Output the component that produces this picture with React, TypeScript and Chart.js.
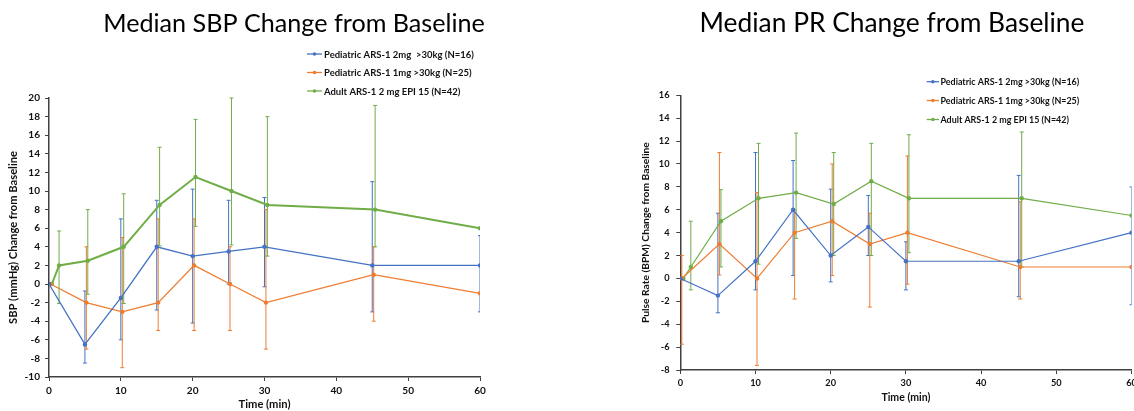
import React, { useEffect, useRef } from "react";
import { Chart, registerables } from "chart.js";

Chart.register(...registerables);

// ---------- data ----------
const pedTimes = [0, 5, 10, 15, 20, 25, 30, 45, 60];
const adultTimes = [0, 1, 5, 10, 15, 20, 25, 30, 45, 60];

const sbpLabels = [
  "Pediatric ARS-1 2mg  >30kg (N=16)",
  "Pediatric ARS-1 1mg >30kg (N=25)",
  "Adult ARS-1 2 mg EPI 15 (N=42)",
];
const prLabels = [
  "Pediatric ARS-1 2mg >30kg (N=16)",
  "Pediatric ARS-1 1mg >30kg (N=25)",
  "Adult ARS-1 2 mg EPI 15 (N=42)",
];

const sbpPed2mg = [0, -6.5, -1.5, 4, 3, 3.5, 4, 2, 2];
const sbpPed2mgLow = [null, -8.5, -6, -2.8, -4.2, 0, -0.3, -3, -3];
const sbpPed2mgHigh = [null, -0.75, 7, 9, 10.2, 9, 9.3, 11, 5.2];
const sbpPed1mg = [0, -2, -3, -2, 2, 0, -2, 1, -1];
const sbpPed1mgLow = [null, -7, -9, -5, -5, -5, -7, -4, null];
const sbpPed1mgHigh = [null, 4, 5, 7, 7, 4, 8, 4, null];
const sbpAdult = [0, 2, 2.5, 4, 8.5, 11.5, 10, 8.5, 8, 6];
const sbpAdultLow = [null, -2.1, -1.1, -2.1, 4.1, 6.2, 4.2, 3, 4, null];
const sbpAdultHigh = [null, 5.7, 8, 9.7, 14.7, 17.7, 20, 18, 19.2, null];

const prPed2mg = [0, -1.5, 1.5, 6, 2, 4.5, 1.5, 1.5, 4];
const prPed2mgLow = [null, -3, -1, 0.25, -0.3, 2, -1, -1.6, -2.3];
const prPed2mgHigh = [null, 5.7, 11, 10.3, 7.8, 7.25, 3.2, 9, 8];
const prPed1mg = [0, 3, 0, 4, 5, 3, 4, 1, 1];
const prPed1mgLow = [-5.75, 0.3, -7.6, -1.8, 0.25, -2.5, -0.5, -1.8, null];
const prPed1mgHigh = [2, 11, 7.5, 6, 10, 5.7, 10.7, 6.7, null];
const prAdult = [0, 1, 5, 7, 7.5, 6.5, 8.5, 7, 7, 5.5];
const prAdultLow = [null, -1, 1, 1.25, 3.5, 2, 2, 2.25, 1, null];
const prAdultHigh = [null, 5, 7.75, 11.8, 12.7, 11, 11.8, 12.55, 12.8, null];

// ---------- style ----------
const COLORS = ["#4472C4", "#ED7D31", "#70AD47"];
const JITTER = [0, 0.2, 0.4];
const FONT = "Lato";
const AXIS = "#404040";
const TEXT = "#111";

type Series = {
  label: string;
  times: number[];
  values: number[];
  low: (number | null)[];
  high: (number | null)[];
};

type Spec = {
  left: number;
  width: number;
  title: string;
  titleX: number;
  titleY: number;
  titleWidth: number;
  legendX0: number;
  legendX1: number;
  legendTextX: number;
  legendYs: number[];
  legendWidth: number;
  padLeft: number;
  padTop: number;
  padRight: number;
  yWidth: number;
  xHeight: number;
  yMin: number;
  yMax: number;
  tickSample: string;
  tickWidth: number;
  yTitle: string;
  yTitleWidth: number;
  xTitleWidth: number;
  yTitleCenter: number;
  yTickRight: number;
  xTickCenter: number;
  xTitleCenter: number;
  lineWidths: number[];
  series: Series[];
};

let measureCtx: CanvasRenderingContext2D | null = null;
function fitSize(text: string, weight: string, target: number) {
  if (!measureCtx) measureCtx = document.createElement("canvas").getContext("2d");
  const ctx = measureCtx as CanvasRenderingContext2D;
  ctx.font = `${weight} 20px ${FONT}`;
  const w = ctx.measureText(text).width;
  return (20 * target) / w;
}

function buildConfig(spec: Spec): any {
  const titleSize = fitSize(spec.title, "400", spec.titleWidth);
  const legendSize = fitSize(spec.series[0].label, "700", spec.legendWidth);
  const tickSize = fitSize(spec.tickSample, "700", spec.tickWidth);
  const yTitleSize = fitSize(spec.yTitle, "700", spec.yTitleWidth);
  const xTitleSize = fitSize("Time (min)", "700", spec.xTitleWidth);
  const yTitleLH = yTitleSize * 1.2;
  const xTitleLH = xTitleSize * 1.2;
  const tickLH = tickSize * 1.2;
  const tickLen = 4;
  const chartLeft = spec.padLeft + spec.yWidth;
  const chartBottom = 411 - spec.xHeight;

  const datasets = spec.series.map((s, k) => ({
    label: s.label,
    data: s.times.map((t, i) => ({ x: Math.min(t + JITTER[k], 60), y: s.values[i] })),
    borderColor: COLORS[k],
    backgroundColor: COLORS[k],
    borderWidth: spec.lineWidths[k],
    pointRadius: 2.2,
    pointHoverRadius: 2.2,
    pointBorderWidth: 0,
    tension: 0,
    fill: false,
  }));

  const decor = {
    id: "decor",
    beforeDatasetsDraw(chart: any) {
      const { ctx, chartArea } = chart;
      const yScale = chart.scales.y;
      ctx.save();
      ctx.beginPath();
      ctx.rect(chartArea.left, chartArea.top - 1, chartArea.width, chartArea.height + 2);
      ctx.clip();
      spec.series.forEach((s, k) => {
        const meta = chart.getDatasetMeta(k);
        s.low.forEach((lo, i) => {
          const hi = s.high[i];
          if (lo == null || hi == null) return;
          const x = meta.data[i].x;
          const y1 = yScale.getPixelForValue(hi);
          const y2 = yScale.getPixelForValue(lo);
          ctx.strokeStyle = COLORS[k];
          ctx.lineWidth = 1;
          ctx.beginPath();
          ctx.moveTo(x, y1);
          ctx.lineTo(x, y2);
          ctx.moveTo(x - 2, y1);
          ctx.lineTo(x + 2, y1);
          ctx.moveTo(x - 2, y2);
          ctx.lineTo(x + 2, y2);
          ctx.stroke();
        });
      });
      ctx.restore();
    },
    afterDraw(chart: any) {
      const { ctx } = chart;
      ctx.save();
      ctx.font = `400 ${titleSize}px ${FONT}`;
      ctx.fillStyle = "#000";
      ctx.textAlign = "center";
      ctx.textBaseline = "alphabetic";
      ctx.fillText(spec.title, spec.titleX, spec.titleY);
      spec.series.forEach((s, k) => {
        const y = spec.legendYs[k];
        ctx.strokeStyle = COLORS[k];
        ctx.lineWidth = 1.3;
        ctx.beginPath();
        ctx.moveTo(spec.legendX0, y);
        ctx.lineTo(spec.legendX1, y);
        ctx.stroke();
        ctx.fillStyle = COLORS[k];
        ctx.beginPath();
        ctx.arc((spec.legendX0 + spec.legendX1) / 2, y, 1.8, 0, Math.PI * 2);
        ctx.fill();
        ctx.font = `700 ${legendSize}px ${FONT}`;
        ctx.fillStyle = TEXT;
        ctx.textAlign = "left";
        ctx.textBaseline = "middle";
        ctx.fillText(s.label, spec.legendTextX, y + 0.5);
      });
      ctx.restore();
    },
  };

  const grid = {
    display: true,
    drawOnChartArea: false,
    drawTicks: true,
    tickLength: tickLen,
    color: AXIS,
    lineWidth: 1,
  };

  return {
    type: "line",
    data: { datasets },
    plugins: [decor],
    options: {
      responsive: false,
      animation: false,
      devicePixelRatio: 1,
      layout: { padding: { left: spec.padLeft, top: spec.padTop, right: spec.padRight, bottom: 0 } },
      plugins: { legend: { display: false }, tooltip: { enabled: false }, title: { display: false } },
      scales: {
        x: {
          type: "linear",
          min: 0,
          max: 60,
          grid,
          border: { display: true, color: AXIS, width: 1.5 },
          ticks: {
            stepSize: 10,
            padding: Math.max(0, spec.xTickCenter - chartBottom - tickLen - tickLH / 2),
            color: TEXT,
            font: { family: FONT, weight: "bold", size: tickSize },
            maxRotation: 0,
          },
          title: {
            display: true,
            text: "Time (min)",
            color: TEXT,
            font: { family: FONT, weight: "bold", size: xTitleSize },
            padding: { top: 0, bottom: Math.max(0, 411 - spec.xTitleCenter - xTitleLH / 2) },
          },
          afterFit(s: any) {
            s.height = spec.xHeight;
            s.paddingLeft = 0;
            s.paddingRight = 0;
          },
        },
        y: {
          type: "linear",
          min: spec.yMin,
          max: spec.yMax,
          grid,
          border: { display: true, color: AXIS, width: 1.5 },
          ticks: {
            stepSize: 2,
            padding: Math.max(0, chartLeft - tickLen - spec.yTickRight),
            color: TEXT,
            font: { family: FONT, weight: "bold", size: tickSize },
          },
          title: {
            display: true,
            text: spec.yTitle,
            color: TEXT,
            font: { family: FONT, weight: "bold", size: yTitleSize },
            padding: { top: Math.max(0, spec.yTitleCenter - spec.padLeft - yTitleLH / 2), bottom: 0 },
          },
          afterFit(s: any) {
            s.width = spec.yWidth;
            s.paddingTop = 0;
            s.paddingBottom = 0;
          },
        },
      },
    },
  };
}

const sbpSpec: Spec = {
  left: 0,
  width: 560,
  title: "Median SBP Change from Baseline",
  titleX: 294,
  titleY: 32,
  titleWidth: 382,
  legendX0: 307,
  legendX1: 322,
  legendTextX: 324,
  legendYs: [54, 72.5, 91],
  legendWidth: 150,
  padLeft: 0,
  padTop: 98,
  padRight: 80,
  yWidth: 49,
  xHeight: 34,
  yMin: -10,
  yMax: 20,
  tickSample: "20",
  tickWidth: 11.7,
  yTitle: "SBP (mmHg) Change from Baseline",
  yTitleWidth: 173,
  xTitleWidth: 52,
  yTitleCenter: 13,
  yTickRight: 40,
  xTickCenter: 391,
  xTitleCenter: 405,
  lineWidths: [1.3, 1.3, 2],
  series: [
    { label: sbpLabels[0], times: pedTimes, values: sbpPed2mg, low: sbpPed2mgLow, high: sbpPed2mgHigh },
    { label: sbpLabels[1], times: pedTimes, values: sbpPed1mg, low: sbpPed1mgLow, high: sbpPed1mgHigh },
    { label: sbpLabels[2], times: adultTimes, values: sbpAdult, low: sbpAdultLow, high: sbpAdultHigh },
  ],
};

const prSpec: Spec = {
  left: 567,
  width: 620,
  title: "Median PR Change from Baseline",
  titleX: 892 - 567,
  titleY: 32,
  titleWidth: 385,
  legendX0: 926.7 - 567,
  legendX1: 939 - 567,
  legendTextX: 940.5 - 567,
  legendYs: [81.7, 100.5, 119.5],
  legendWidth: 139,
  padLeft: 60,
  padTop: 95.3,
  padRight: 55.5,
  yWidth: 53.3,
  xHeight: 41,
  yMin: -8,
  yMax: 16,
  tickSample: "16",
  tickWidth: 10.7,
  yTitle: "Pulse Rate (BPM) Change from Baseline",
  yTitleWidth: 181,
  xTitleWidth: 49,
  yTitleCenter: 645.7 - 567,
  yTickRight: 669.5 - 567,
  xTickCenter: 383,
  xTitleCenter: 397.7,
  lineWidths: [1.2, 1.2, 1.2],
  series: [
    { label: prLabels[0], times: pedTimes, values: prPed2mg, low: prPed2mgLow, high: prPed2mgHigh },
    { label: prLabels[1], times: pedTimes, values: prPed1mg, low: prPed1mgLow, high: prPed1mgHigh },
    { label: prLabels[2], times: adultTimes, values: prAdult, low: prAdultLow, high: prAdultHigh },
  ],
};

function ChartCanvas({ spec }: { spec: Spec }) {
  const ref = useRef<HTMLCanvasElement>(null);
  useEffect(() => {
    const chart = new Chart(ref.current as HTMLCanvasElement, buildConfig(spec));
    return () => chart.destroy();
  }, [spec]);
  return (
    <canvas
      ref={ref}
      width={spec.width}
      height={411}
      style={{ position: "absolute", left: spec.left, top: 0, width: spec.width, height: 411 }}
    />
  );
}

export default function App() {
  return (
    <div
      style={{
        position: "absolute",
        left: 0,
        top: 0,
        width: 1134,
        height: 411,
        overflow: "hidden",
        background: "#fff",
      }}
    >
      <ChartCanvas spec={sbpSpec} />
      <ChartCanvas spec={prSpec} />
    </div>
  );
}
